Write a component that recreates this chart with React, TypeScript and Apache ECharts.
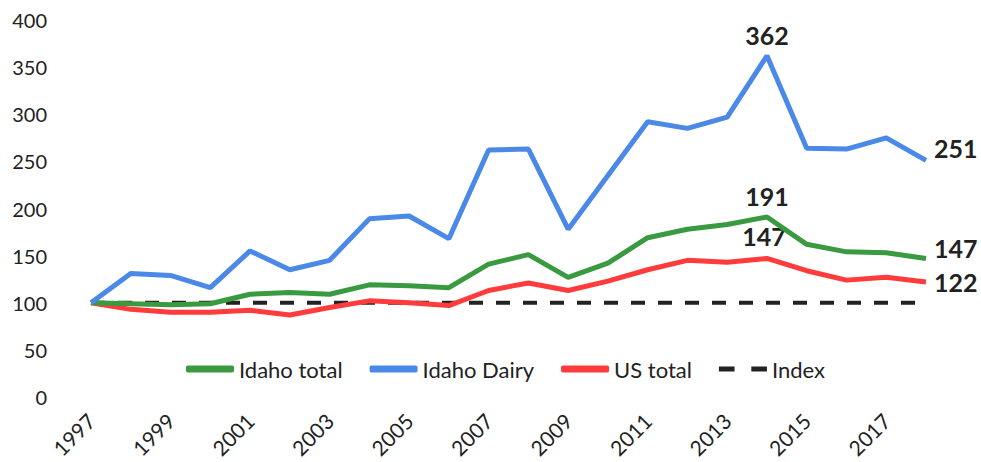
import React, { useEffect, useRef } from "react";
import * as echarts from "echarts";

const years = ["1997","1998","1999","2000","2001","2002","2003","2004","2005","2006","2007","2008","2009","2010","2011","2012","2013","2014","2015","2016","2017","2018"];
const idahoTotal = [100, 99, 98, 99, 109, 111, 109, 119, 118, 116, 141, 151, 127, 142, 169, 178, 183, 191, 162, 154, 153, 147];
const idahoDairy = [100, 131, 129, 116, 155, 135, 145, 189, 192, 168, 262, 263, 178, 235, 292, 285, 297, 362, 264, 263, 275, 251];
const usTotal = [100, 93, 90, 90, 92, 87, 95, 102, 100, 97, 113, 121, 113, 123, 135, 145, 143, 147, 134, 124, 127, 122];
const indexLine = [100, 100, 100, 100, 100, 100, 100, 100, 100, 100, 100, 100, 100, 100, 100, 100, 100, 100, 100, 100, 100, 100];
const yTicks = [0, 50, 100, 150, 200, 250, 300, 350, 400];

const FONT = "Lato";

type Lbl = { idx: number; position: string; offset?: number[] };

function withLabels(values: number[], labels: Lbl[]) {
  return values.map((v, i) => {
    const l = labels.find((x) => x.idx === i);
    if (!l) return v;
    return {
      value: v,
      label: {
        show: true,
        position: l.position,
        offset: l.offset || [0, 0],
        distance: 8,
        formatter: "{c}",
        fontFamily: FONT,
        fontWeight: "bold",
        fontSize: 25,
        color: "#222",
      },
    };
  });
}

export default function App() {
  const ref = useRef<HTMLDivElement>(null);
  useEffect(() => {
    if (!ref.current) return;
    const chart = echarts.init(ref.current, undefined, { renderer: "svg" });
    const lineBase = { type: "line", symbol: "circle", symbolSize: 0, showSymbol: true, smooth: false };
    chart.setOption({
      animation: false,
      backgroundColor: "#fff",
      grid: { left: 91, right: 55, top: 20, bottom: 65, containLabel: false },
      legend: {
        left: 181,
        top: 353,
        itemWidth: 48,
        itemHeight: 7,
        itemGap: 27,
        textStyle: { fontFamily: FONT, fontSize: 22, color: "#222" },
        data: [
          { name: "Idaho total", icon: "roundRect" },
          { name: "Idaho Dairy", icon: "roundRect" },
          { name: "US total", icon: "roundRect" },
          { name: "Index", icon: "path://M0 0h13v4h-13z M27 0h13v4h-13z" },
        ],
      },
      xAxis: {
        type: "category",
        data: years,
        boundaryGap: false,
        axisLine: { show: false },
        axisTick: { show: false },
        axisLabel: { interval: 1, rotate: 45, margin: 20, fontFamily: FONT, fontSize: 21, color: "#222" },
      },
      yAxis: {
        type: "value",
        min: yTicks[0],
        max: yTicks[yTicks.length - 1],
        interval: 50,
        splitLine: { show: false },
        axisLine: { show: false },
        axisTick: { show: false },
        axisLabel: { margin: 44, fontFamily: FONT, fontSize: 20, color: "#222" },
      },
      series: [
        {
          ...lineBase,
          name: "Index",
          data: indexLine,
          z: 1,
          lineStyle: { color: "#222", width: 4, type: [14, 13] },
          itemStyle: { color: "#222" },
        },
        {
          ...lineBase,
          name: "US total",
          data: withLabels(usTotal, [
            { idx: 17, position: "top", offset: [-3, -2] },
            { idx: 21, position: "right", offset: [0, 0] },
          ]),
          z: 2,
          lineStyle: { color: "#FF3B3B", width: 5 },
          itemStyle: { color: "#FF3B3B" },
        },
        {
          ...lineBase,
          name: "Idaho total",
          data: withLabels(idahoTotal, [
            { idx: 17, position: "top", offset: [0, 0] },
            { idx: 21, position: "right", offset: [0, -10] },
          ]),
          z: 3,
          lineStyle: { color: "#3A9A40", width: 5 },
          itemStyle: { color: "#3A9A40" },
        },
        {
          ...lineBase,
          name: "Idaho Dairy",
          data: withLabels(idahoDairy, [
            { idx: 17, position: "top", offset: [0, 0] },
            { idx: 21, position: "right", offset: [0, -12] },
          ]),
          z: 4,
          lineStyle: { color: "#4A89E8", width: 5 },
          itemStyle: { color: "#4A89E8" },
        },
      ],
    });
    return () => chart.dispose();
  }, []);
  return <div ref={ref} style={{ width: 981, height: 462, position: "absolute", left: 0, top: 0 }} />;
}
